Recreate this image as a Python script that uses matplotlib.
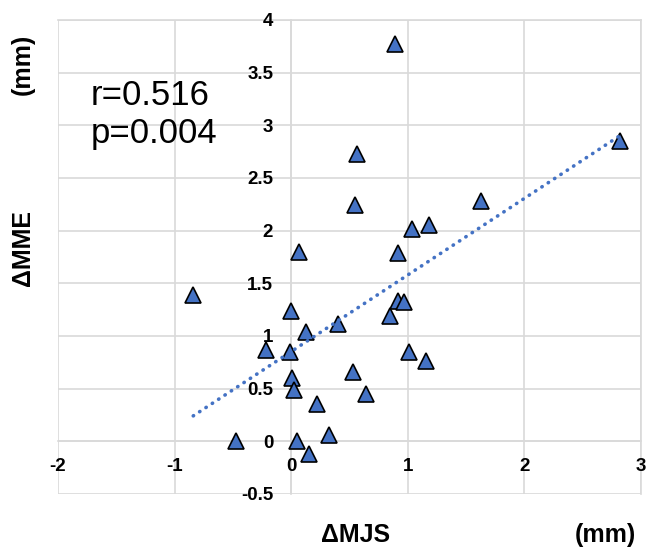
import numpy as np
import matplotlib
import matplotlib.pyplot as plt
from matplotlib.ticker import FuncFormatter, MultipleLocator

matplotlib.use("Agg")

# data
mjs = [0.89, 0.563, 0.543, 1.625, 1.035, 1.18, 0.915, 2.816, 0.063, -0.84,
       0.0, 0.13, -0.22, -0.01, 0.01, 0.02, 0.22, -0.476, 0.05, 0.15,
       0.92, 0.97, 0.845, 0.405, 1.013, 1.155, 0.53, 0.643, 0.32]
mme = [3.77, 2.73, 2.246, 2.28, 2.02, 2.05, 1.79, 2.85, 1.80, 1.385,
       1.24, 1.04, 0.87, 0.845, 0.60, 0.49, 0.35, 0.0, 0.0, -0.12,
       1.33, 1.32, 1.19, 1.115, 0.85, 0.76, 0.655, 0.446, 0.064]
r_text = "r=0.516"
p_text = "p=0.004"

plt.rcParams["font.family"] = ["Liberation Sans", "DejaVu Sans"]
plt.rcParams["axes.unicode_minus"] = False

blue = "#4472C4"
grid_c = "#d9d9d9"

fig = plt.figure(figsize=(6.47, 5.51), dpi=100)
ax = fig.add_axes([58 / 647, 1 - 494 / 551, (641 - 58) / 647, (494 - 20) / 551])

x = np.array(mjs)
y = np.array(mme)

# linear trend line over the data range
k, b = np.polyfit(x, y, 1)
xs = np.array([x.min(), x.max()])
ax.plot(xs, k * xs + b, color=blue, linewidth=2.6, linestyle=(0, (0.1, 2.0)),
        dash_capstyle="round", zorder=4)

ax.plot(x, y, linestyle="none", marker="^", markersize=11,
        markerfacecolor=blue, markeredgecolor="black", markeredgewidth=1.2,
        zorder=3, clip_on=False)

ax.set_xlim(-2, 3)
ax.set_ylim(-0.5, 4)
ax.xaxis.set_major_locator(MultipleLocator(1))
ax.yaxis.set_major_locator(MultipleLocator(0.5))
fmt = FuncFormatter(lambda v, pos: f"{v:g}")
ax.xaxis.set_major_formatter(fmt)
ax.yaxis.set_major_formatter(fmt)

ax.grid(True, color=grid_c, linewidth=1.2)
ax.set_axisbelow(True)

ax.spines["left"].set_position(("data", 0))
ax.spines["bottom"].set_position(("data", 0))
for side in ["left", "bottom", "right", "top"]:
    ax.spines[side].set_color(grid_c)
    ax.spines[side].set_linewidth(1.2)
    ax.spines[side].set_zorder(0.1)

ax.tick_params(axis="both", length=0, labelsize=13.5)
ax.tick_params(axis="y", pad=13)
ax.tick_params(axis="x", pad=12)
for lab in ax.get_xticklabels() + ax.get_yticklabels():
    lab.set_fontweight("bold")

fig.text(91 / 647, 1 - 105 / 551, r_text, fontsize=25, ha="left", va="baseline")
fig.text(91 / 647, 1 - 143 / 551, p_text, fontsize=25, ha="left", va="baseline")

fig.text(23 / 647, 1 - 64 / 551, "(mm)", rotation=90, fontsize=18,
         fontweight="bold", ha="center", va="center")
fig.text(23 / 647, 1 - 248 / 551, "ΔMME", rotation=90, fontsize=18,
         fontweight="bold", ha="center", va="center")
fig.text(356 / 647, 1 - 535 / 551, "ΔMJS", fontsize=18,
         fontweight="bold", ha="center", va="center")
fig.text(605 / 647, 1 - 535 / 551, "(mm)", fontsize=18,
         fontweight="bold", ha="center", va="center")

fig.savefig("out.png", dpi=100)
